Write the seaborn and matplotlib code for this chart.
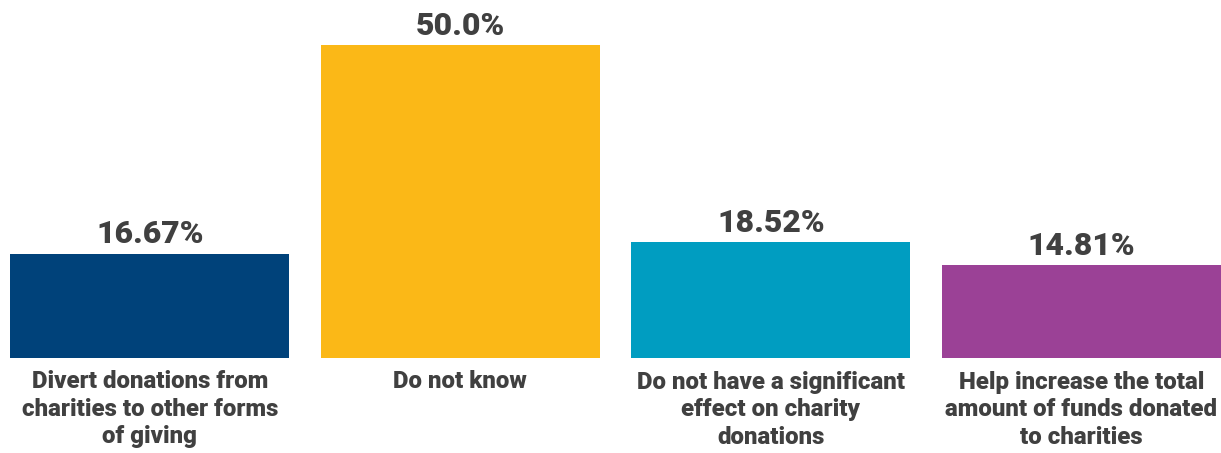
import matplotlib
matplotlib.use('Agg')
import matplotlib.pyplot as plt
import seaborn as sns
import pandas as pd

categories = [
    'Divert donations from\ncharities to other forms\nof giving',
    'Do not know',
    'Do not have a significant\neffect on charity\ndonations',
    'Help increase the total\namount of funds donated\nto charities',
]
values = [16.67, 50.0, 18.52, 14.81]
value_labels = ['16.67%', '50.0%', '18.52%', '14.81%']
colors = ['#00427A', '#FBB817', '#009DC1', '#9B4196']

sns.set_theme(style='white')
plt.rcParams['font.family'] = ['Roboto', 'DejaVu Sans']

df = pd.DataFrame({'category': categories, 'value': values})

fig = plt.figure(figsize=(12.21, 4.53), dpi=100)
# axes placed so bars fill the width like the original
ax = fig.add_axes([10 / 1221, 1 - 358 / 453, 1211 / 1221, 313 / 453])

sns.barplot(data=df, x='category', y='value', hue='category', palette=colors,
            width=0.9, saturation=1, legend=False, linewidth=0, ax=ax)

ax.set_xlim(-0.45, 3.45)
ax.set_ylim(0, 50)
for c, lab in zip(ax.containers, value_labels):
    ax.bar_label(c, labels=[lab], padding=3, fontsize=23, fontweight='heavy',
                 color='#404040', clip_on=False)

ax.set_xlabel('')
ax.set_ylabel('')
ax.set_yticks([])
ax.tick_params(axis='x', length=0, pad=9)
for t in ax.get_xticklabels():
    t.set_fontsize(17.3)
    t.set_fontweight('heavy')
    t.set_color('#404040')
    t.set_linespacing(1.25)
    t.set_verticalalignment('top')
sns.despine(ax=ax, left=True, bottom=True)

fig.savefig('out.png', dpi=100)
